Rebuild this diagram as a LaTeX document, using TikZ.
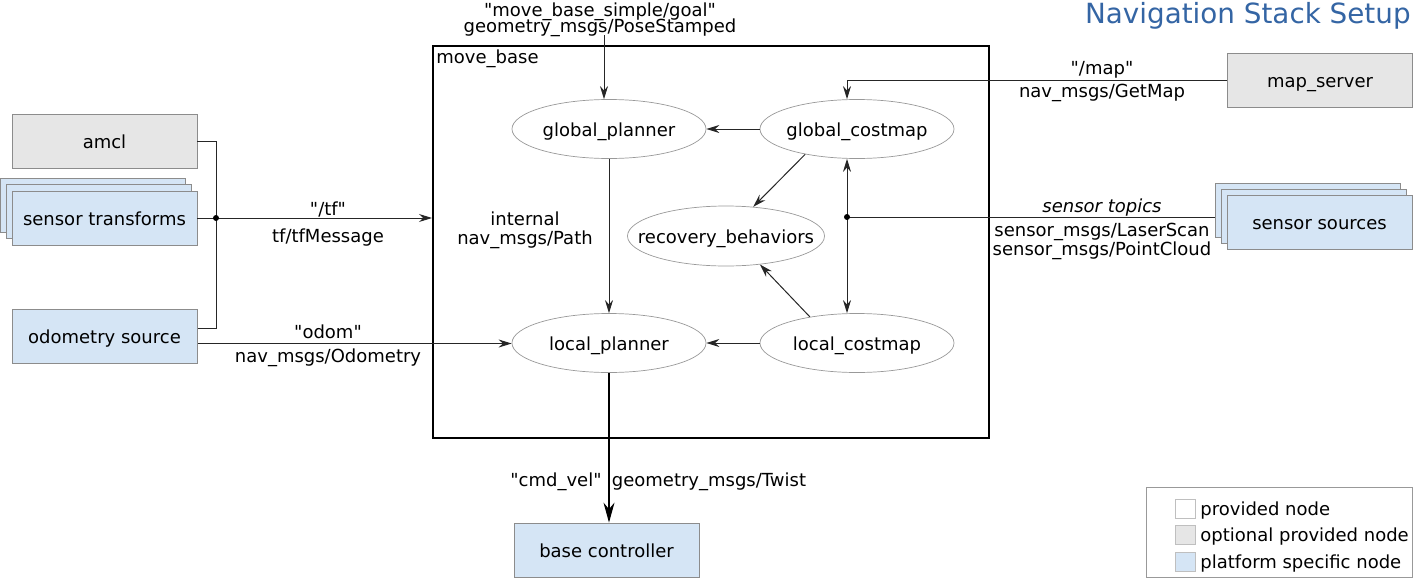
\documentclass[tikz,border=0pt]{standalone}
\usepackage{fontspec}
\setmainfont{DejaVu Sans}[Ligatures=TeXOff]
\usepackage{tikz}
\usetikzlibrary{positioning, arrows.meta, shapes.geometric, calc}
\definecolor{optgray}{RGB}{230,230,230}
\definecolor{platblue}{RGB}{213,229,245}
\definecolor{titleblue}{RGB}{52,101,164}
\tikzset{
    txt/.style={text height=7.2pt, text depth=0pt},
    pbox/.style={rectangle, txt, draw=black!45, minimum width=92.5pt, minimum height=27pt, inner sep=0pt},
    optbox/.style={pbox, fill=optgray},
    platbox/.style={pbox, fill=platblue},
    proc/.style={ellipse, txt, draw=black!40, line width=0.35pt, minimum width=97pt, minimum height=29.5pt, inner sep=0pt},
    msg/.style={txt, inner sep=0pt},
    junction/.style={circle, fill=black, inner sep=0pt, minimum size=3pt},
    conn/.style={black!85, line width=0.5pt},
    arr/.style={conn, -{Stealth[length=6.5pt, width=4pt]}}
}

\begin{document}
\begin{tikzpicture}[
    x=0.5pt, y=-0.5pt,
    font=\fontsize{9}{10.8}\selectfont,
    bigarr/.style={black, line width=0.6pt, -{Stealth[length=10pt, width=5.5pt]}},
    legsq/.style={draw=black!25, line width=0.35pt}
]
    \useasboundingbox (0,0) rectangle (1413,578);

    % --- Title ---
    \node[anchor=east, inner sep=0pt, text=titleblue, font=\fontsize{13.9}{16}\selectfont] (title) at (1411,16) {Navigation Stack Setup};

    % --- move_base and its parts ---
    \node[draw, line width=1pt, minimum width=278pt, minimum height=196pt, inner sep=0pt] (movebase) at (711,242) {};
    \node[anchor=north west, txt, inner sep=2pt] (mblabel) at (movebase.north west) {move\_base};

    \node[proc] (gplan) at (609,129) {\makebox[0pt]{global\_planner}};
    \node[proc] (gcost) at (857,129) {\makebox[0pt]{global\_costmap}};
    \node[proc, minimum width=98.5pt, minimum height=30pt] (recov) at (726,236) {\makebox[0pt]{recovery\_behaviors}};
    \node[proc] (lplan) at (609,343) {\makebox[0pt]{local\_planner}};
    \node[proc] (lcost) at (857,343) {\makebox[0pt]{local\_costmap}};

    % --- outside nodes ---
    \node[optbox] (amcl) at (104.5,141.5) {amcl};
    \node[platbox] (tfback) at (92.5,205.5) {};
    \node[platbox] (tfmid) at (98.5,211.5) {};
    \node[platbox] (tfs) at (104.5,218) {sensor transforms};
    \node[platbox] (odom) at (104.5,336.5) {odometry source};
    \node[platbox] (base) at (606.5,550) {base controller};
    \node[optbox] (mapsrv) at (1320,80.5) {map\_server};
    \node[platbox] (sensback) at (1307.5,210) {};
    \node[platbox] (sensmid) at (1313.5,216) {};
    \node[platbox] (sens) at (1319.5,222) {sensor sources};

    % --- junction points ---
    \coordinate (tfjoin) at (216,218);
    \coordinate (odomtf) at (198,328);
    \coordinate (odomout) at (198,343.5);
    \coordinate (sensjoin) at (847,217);
    \coordinate (goalin) at (604,35);

    % --- connectors ---
    \draw[conn] (amcl.east) -| (tfjoin);
    \draw[conn] (odomtf) -| (tfjoin);
    \draw[conn] (tfs.east) -- (tfjoin);
    \draw[arr] (tfjoin) -- (tfjoin -| movebase.west);
    \node[junction] (tfdot) at (tfjoin) {};
    \draw[arr] (odomout) -- (odomout -| lplan.west);

    \draw[arr] (goalin) -- (goalin |- gplan.north);
    \draw[arr] (mapsrv.west) -| (sensjoin |- gcost.north);
    \draw[conn] (sensjoin) -- (sensjoin -| sensback.west);
    \draw[arr] (sensjoin) -- (sensjoin |- gcost.south);
    \draw[arr] (sensjoin) -- (sensjoin |- lcost.north);
    \node[junction] (sensdot) at (sensjoin) {};

    \draw[arr] (gcost) -- (gplan);
    \draw[arr] (gcost.206) -- (recov.47);
    \draw[arr] (lcost.151) -- (recov.320);
    \draw[arr] (gplan.south -| lplan.south) -- (lplan.north);
    \draw[arr] (lcost) -- (lplan);
    \draw[bigarr] (lplan.south) -- (lplan.south |- base.north);

    % --- topic labels ---
    \node[msg] (goal1) at (600,9) {"move\_base\_simple/goal"};
    \node[msg] (goal2) at (600,25) {geometry\_msgs/PoseStamped};
    \node[msg] (map1) at (1102,67) {"/map"};
    \node[msg] (map2) at (1102,90) {nav\_msgs/GetMap};
    \node[msg, font=\fontsize{9}{10.8}\selectfont\itshape] (topics) at (1102,205) {sensor topics};
    \node[msg] (scan) at (1102,229) {sensor\_msgs/LaserScan};
    \node[msg] (cloud) at (1102,248) {sensor\_msgs/PointCloud};
    \node[msg] (tf1) at (328,208) {"/tf"};
    \node[msg] (tf2) at (328,235) {tf/tfMessage};
    \node[msg] (odom1) at (328,331) {"odom"};
    \node[msg] (odom2) at (328,355) {nav\_msgs/Odometry};
    \node[msg] (internal) at (525,218) {internal};
    \node[msg] (path) at (525,237) {nav\_msgs/Path};
    \node[msg] (cmdvel) at (556,479) {"cmd\_vel"};
    \node[msg] (twist) at (709,479) {geometry\_msgs/Twist};

    % --- legend ---
    \draw[draw=black!40, line width=0.4pt] (1146,487) rectangle (1412,577);
    \draw[legsq, fill=white] (1175,499) rectangle (1195,518);
    \draw[legsq, fill=optgray] (1175,525) rectangle (1195,544);
    \draw[legsq, fill=platblue] (1175,552) rectangle (1195,571);
    \node[msg, anchor=west] (leg1) at (1200,508) {provided node};
    \node[msg, anchor=west] (leg2) at (1200,534) {optional provided node};
    \node[msg, anchor=west] (leg3) at (1200,561) {platform specific node};
\end{tikzpicture}
\end{document}
